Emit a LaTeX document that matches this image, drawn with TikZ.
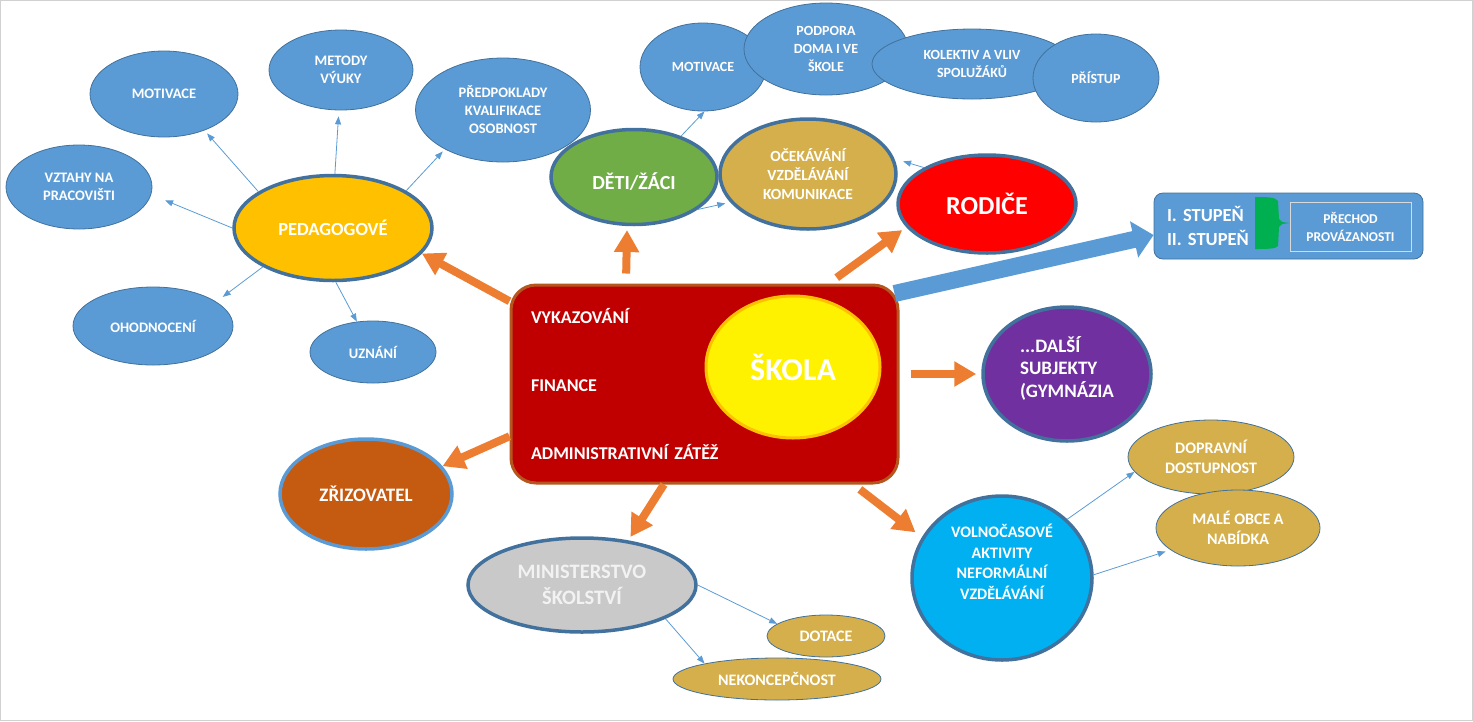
\documentclass[tikz,border=0pt]{standalone}
\usepackage{fontspec}
\setmainfont{Carlito}
\usetikzlibrary{arrows.meta}
\usetikzlibrary{shapes.geometric}
\usetikzlibrary{calc}
\usetikzlibrary{positioning}

\definecolor{skyblue}{HTML}{5B9BD5}
\definecolor{edgeblue}{HTML}{41719C}
\definecolor{pedyellow}{HTML}{FFC000}
\definecolor{kidgreen}{HTML}{70AD47}
\definecolor{goldish}{HTML}{D4AF4B}
\definecolor{schoolred}{HTML}{C00000}
\definecolor{schooledge}{HTML}{B5561F}
\definecolor{arrorange}{HTML}{ED7D31}
\definecolor{founder}{HTML}{C55A11}
\definecolor{minigray}{HTML}{C9C9C9}
\definecolor{purpleA}{HTML}{7030A0}
\definecolor{freecyan}{HTML}{00B0F0}
\definecolor{bracegreen}{HTML}{00B050}

\newcommand{\fs}[2]{\fontsize{#1}{#2}\selectfont}

\begin{document}
\begin{tikzpicture}[x=1pt, y=-1pt,
        blob/.style={ellipse, inner sep=0pt, align=center, text=white, font=\bfseries\fs{14.5}{18}},
        bluebl/.style={blob, fill=skyblue, draw=edgeblue, line width=0.8pt},
        goldbl/.style={blob, fill=goldish, draw=edgeblue, line width=0.8pt, font=\bfseries\fs{16}{20}},
        mainbl/.style={blob, draw=edgeblue, line width=3.5pt},
        dims/.style 2 args={minimum width=#1pt, minimum height=#2pt},
        labtxt/.style={text=white, align=center},
        thinarr/.style={draw=skyblue, line width=0.8pt, -{Triangle[length=8pt,width=6pt]}},
        fatarr/.style={draw=arrorange, line width=8pt, -{Triangle[length=22pt,width=24pt]}},
        bigarr/.style={draw=skyblue, line width=17pt, -{Triangle[length=20pt,width=36pt]}}]
        \useasboundingbox (0,0) rectangle (1473,721);
        \draw[black!18, line width=1pt] (0.5,0.5) rectangle (1472.5,720.5); % frame

        % Pedagogove and their ring
        \node[bluebl, dims={148}{86}] (motA) at (164,94) {MOTIVACE};
        \node[bluebl, dims={144}{80}] (metody) at (341,70) {METODY\\VÝUKY};
        \node[bluebl, dims={175}{104}] (predp) at (503,110) {PŘEDPOKLADY\\KVALIFIKACE\\OSOBNOST};
        \node[bluebl, dims={146}{84}] (vztahy) at (79,187) {VZTAHY NA\\PRACOVIŠTI};
        \node[bluebl, dims={160}{78}] (ohod) at (153,326) {OHODNOCENÍ};
        \node[bluebl, dims={126}{62}] (uznani) at (373,352) {UZNÁNÍ};
        \node[mainbl, fill=pedyellow, dims={198}{105}, font=\bfseries\fs{18.5}{22}] (ped) at (333,228) {PEDAGOGOVÉ};

        % children and parents
        \node[bluebl, dims={126}{88}, font=\bfseries\fs{14}{18}] (motB) at (703,67) {MOTIVACE};
        \node[bluebl, dims={164}{92}, font=\bfseries\fs{14}{18}] (podpora) at (826,49) {PODPORA\\DOMA I VE\\ŠKOLE};
        \node[bluebl, dims={200}{70}, font=\bfseries\fs{14}{18}] (kolektiv) at (972,64) {KOLEKTIV A VLIV\\SPOLUŽÁKŮ};
        \node[bluebl, dims={126}{88}, font=\bfseries\fs{14}{18}] (pristup) at (1096,78) {PŘÍSTUP};
        \node[mainbl, fill=kidgreen, dims={166}{95},
            label={[labtxt, font=\bfseries\fs{20}{24}, yshift=-5pt]center:DĚTI/ŽÁCI}] (deti) at (634,177) {};
        \node[mainbl, fill=goldish, dims={176}{110}, font=\bfseries\fs{15.5}{19}] (ocek) at (808,174) {OČEKÁVÁNÍ\\VZDĚLÁVÁNÍ\\KOMUNIKACE};
        \node[mainbl, fill=red, dims={178}{98}, font=\bfseries\fs{26}{30}] (rodice) at (987,204) {RODIČE};

        % school
        \node[draw=schooledge, fill=schoolred, line width=3pt, rounded corners=25pt,
            minimum height=198pt, text width=347pt, inner xsep=20pt, align=left,
            text=white, font=\bfseries\fs{18}{68}] (skola) at (704.5,384)
            {VYKAZOVÁNÍ\\FINANCE\\ADMINISTRATIVNÍ ZÁTĚŽ};
        \node[blob, fill=yellow, draw=pedyellow, line width=3pt, dims={174}{142},
            font=\bfseries\fs{32}{36}] (skolaell) at (793,367) {ŠKOLA};

        % stages box
        \node[draw=edgeblue, fill=skyblue, line width=0.8pt, rounded corners=9pt,
            minimum height=66pt, text width=243pt, inner xsep=13pt, align=left,
            text=white, font=\bfseries\fs{18.5}{24}] (stupen) at (1288.5,226) {I. STUPEŇ\\II. STUPEŇ};
        \fill[bracegreen] (1255,197) .. controls (1266,197) and (1276,197) .. (1278,201)
            -- (1279,219) .. controls (1281,222) .. (1290,223) .. controls (1281,224) .. (1279,227)
            -- (1278,246) .. controls (1276,249) and (1266,249) .. (1255,249) -- cycle;
        \node[draw=black!15, fill=skyblue, line width=0.8pt, minimum width=121pt, minimum height=49pt,
            align=center, text=white, font=\bfseries\fs{13.5}{18}] (prechod) at (1350.5,226.5) {PŘECHOD\\PROVÁZANOSTI};

        % other subjects
        \node[mainbl, fill=purpleA, dims={168}{134},
            label={[labtxt, align=left, font=\bfseries\fs{19}{22.5}, yshift=6pt]center:...DALŠÍ\\SUBJEKTY\\(GYMNÁZIA}] (dalsi) at (1067,374) {};
        \node[mainbl, fill=founder, draw=skyblue, dims={172}{110}, font=\bfseries\fs{19}{22}] (zriz) at (366,494) {ZŘIZOVATEL};
        \node[mainbl, fill=minigray, dims={228}{94}, text=black!5, font=\bfseries\fs{20.5}{26}] (mini) at (582,585) {MINISTERSTVO\\ŠKOLSTVÍ};
        \node[goldbl, dims={118}{42}] (dotace) at (826,636) {DOTACE};
        \node[goldbl, dims={208}{42}] (nekonc) at (777,679) {NEKONCEPČNOST};
        \node[mainbl, fill=freecyan, dims={180}{164},
            label={[labtxt, font=\bfseries\fs{16}{20.5}, yshift=16pt]center:VOLNOČASOVÉ\\AKTIVITY\\NEFORMÁLNÍ\\VZDĚLÁVÁNÍ}] (volno) at (1002,578) {};
        \node[goldbl, dims={166}{74}] (dopr) at (1211,457) {DOPRAVNÍ\\DOSTUPNOST};
        \node[goldbl, dims={164}{76}] (male) at (1238,528) {MALÉ OBCE A\\NABÍDKA};

        % thin arrows
        \draw[thinarr, shorten >=4pt] (ped.154) -- (motA.-42);
        \draw[thinarr, shorten >=6pt] (ped.88) -- (metody.-93);
        \draw[thinarr, shorten >=3pt] (ped.27) -- (predp.214);
        \draw[thinarr, shorten >=15pt] (ped.180) -- (vztahy.-6);
        \draw[thinarr, shorten >=8pt] (ped.209) -- (ohod.21);
        \draw[thinarr] (ped.-87) -- (uznani.118);
        \draw[thinarr] (deti.41) -- (motB.-88);
        \draw[thinarr, shorten >=5pt] (deti.-27) -- (ocek.200);
        \draw[thinarr, shorten >=9pt] (rodice.150) -- (ocek.10);
        \draw[thinarr] (mini.0) -- (dotace.166);
        \draw[thinarr] (mini.-22) -- (nekonc.168);
        \draw[thinarr] (volno.42) -- (dopr.191);
        \draw[thinarr, shorten >=5pt] (volno.2) -- (male.198);

        % orange arrows out of the school
        \draw[fatarr] (skola.157) -- (ped.-16);
        \draw[fatarr, shorten <=10pt, shorten >=4pt] (skola.128) -- (deti.-98);
        \draw[fatarr, shorten <=10pt, shorten >=5pt] (skola.39) -- (rodice.196);
        \draw[fatarr, shorten <=11pt, shorten >=5pt] (skola.east |- dalsi.west) -- (dalsi.west);
        \draw[fatarr] (skola.195) -- (zriz.20);
        \draw[fatarr, shorten >=4pt] (skola.248) -- (mini.44);
        \draw[fatarr, shorten <=8pt, shorten >=8pt] (skola.-34) -- (volno.153);

        % big arrow to the stages
        \draw[bigarr] ($(skola.north east)+(-5,10)$) -- ($(stupen.west)+(0,9)$);
    \end{tikzpicture}
\end{document}
